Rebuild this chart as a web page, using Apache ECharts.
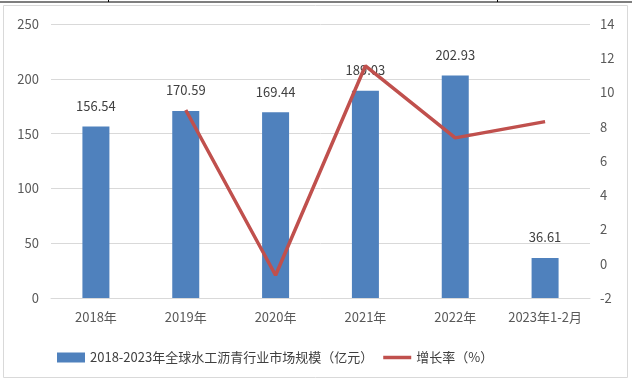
<!DOCTYPE html>
<html><head><meta charset="utf-8">
<script src="https://cdn.jsdelivr.net/npm/echarts@6/dist/echarts.min.js"></script>
<style>html,body{margin:0;padding:0;background:#fff}#c{width:632px;height:383px}</style>
</head><body><div id="c"></div>
<script>
const categories = ['2018年','2019年','2020年','2021年','2022年','2023年1-2月'];
const marketSize = [156.54, 170.59, 169.44, 189.03, 202.93, 36.61];
const growthRate = [null, 8.98, -0.67, 11.56, 7.35, 8.3];
const barName = '2018-2023年全球水工沥青行业市场规模（亿元）';
const lineName = '增长率（%）';
const leftTicks = {min: 0, max: 250, interval: 50};
const rightTicks = {min: -2, max: 14, interval: 2};

const font = '"Microsoft YaHei","Noto Sans CJK SC",sans-serif';
const chart = echarts.init(document.getElementById('c'), null, {renderer: 'canvas'});
chart.setOption({
  animation: false,
  textStyle: {fontFamily: font},
  graphic: [
    {type: 'rect', shape: {x: 3.5, y: 5.5, width: 624, height: 372}, style: {fill: 'none', stroke: '#d9d9d9', lineWidth: 1}, silent: true},
    {type: 'line', shape: {x1: 0, y1: 2, x2: 632, y2: 2}, style: {stroke: '#000', lineWidth: 1.2}},
    {type: 'line', shape: {x1: 108.5, y1: 0, x2: 108.5, y2: 2}, style: {stroke: '#000', lineWidth: 1}},
    {type: 'line', shape: {x1: 497.5, y1: 0, x2: 497.5, y2: 2}, style: {stroke: '#000', lineWidth: 1}}
  ],
  grid: {left: 51, right: 42, top: 24, bottom: 85},
  legend: {
    top: 346, left: 52, itemGap: 10,
    textStyle: {color: '#404040', fontSize: 13, fontFamily: font},
    data: [
      {name: barName, icon: 'rect', itemStyle: {color: '#4f81bd'}},
      {name: lineName, icon: 'path://M0,0 L28,0 L28,3.5 L0,3.5 Z', itemStyle: {color: '#c0504d'}}
    ],
    itemWidth: 28, itemHeight: 10
  },
  xAxis: {
    type: 'category', data: categories,
    axisLine: {lineStyle: {color: '#d9d9d9'}},
    axisTick: {show: false},
    axisLabel: {color: '#595959', fontSize: 13, margin: 13, interval: 0, fontFamily: font}
  },
  yAxis: [
    {type: 'value', min: leftTicks.min, max: leftTicks.max, interval: leftTicks.interval,
     axisLine: {show: false}, axisTick: {show: false},
     splitLine: {lineStyle: {color: '#d9d9d9'}},
     axisLabel: {color: '#595959', fontSize: 13, margin: 12, fontFamily: font}},
    {type: 'value', min: rightTicks.min, max: rightTicks.max, interval: rightTicks.interval,
     axisLine: {show: false}, axisTick: {show: false}, splitLine: {show: false},
     axisLabel: {color: '#595959', fontSize: 13, margin: 10, fontFamily: font}}
  ],
  series: [
    {name: barName, type: 'bar', data: marketSize, barWidth: 27, z: 2,
     itemStyle: {color: '#4f81bd'},
     label: {show: true, position: 'top', distance: 14, color: '#404040', fontSize: 13, fontFamily: font}},
    {name: lineName, type: 'line', yAxisIndex: 1, data: growthRate, z: 5,
     symbol: 'none', lineStyle: {color: '#c0504d', width: 3.5}, itemStyle: {color: '#c0504d'}}
  ]
});
</script></body></html>
